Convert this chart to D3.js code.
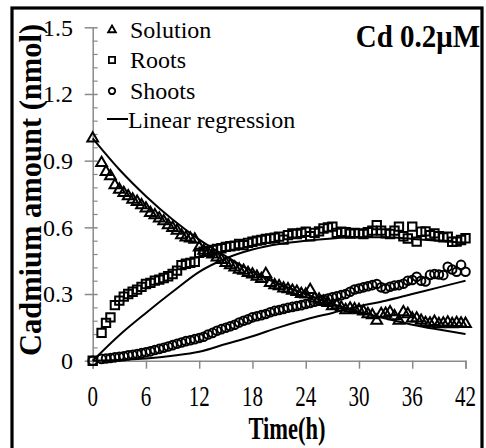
<!DOCTYPE html>
<html><head><meta charset="utf-8">
<script src="https://cdn.jsdelivr.net/npm/d3@7"></script>
<style>
html,body{margin:0;padding:0;background:#fff;}
svg{display:block;}
text{font-family:"Liberation Serif","Times New Roman",Times,serif;fill:#000;}
</style></head>
<body>
<svg id="c" width="486" height="448"></svg>
<script>
// ---- data ----
const times = [0,1,1.5,2,2.5,3,3.5,4,4.5,5,5.5,6,6.5,7,7.5,8,8.5,9,9.5,10,10.5,11,11.5,12,12.5,13,13.5,14,14.5,15,15.5,16,16.5,17,17.5,18,18.5,19,19.5,20,20.5,21,21.5,22,22.5,23,23.5,24,24.5,25,25.5,26,26.5,27,27.5,28,28.5,29,29.5,30,30.5,31,31.5,32,32.5,33,33.5,34,34.5,35,35.5,36,36.5,37,37.5,38,38.5,39,39.5,40,40.5,41,41.5,42];
const solution = [1.00,0.89,0.85,0.83,0.79,0.77,0.755,0.74,0.725,0.715,0.70,0.685,0.665,0.655,0.64,0.628,0.61,0.598,0.585,0.565,0.555,0.55,0.545,0.51,0.495,0.485,0.478,0.465,0.453,0.44,0.43,0.42,0.41,0.405,0.395,0.388,0.378,0.368,0.39,0.35,0.34,0.335,0.325,0.322,0.315,0.31,0.30,0.298,0.318,0.28,0.275,0.265,0.26,0.245,0.25,0.24,0.228,0.235,0.232,0.228,0.222,0.21,0.205,0.18,0.21,0.212,0.218,0.20,0.18,0.218,0.21,0.19,0.19,0.18,0.17,0.168,0.175,0.165,0.168,0.172,0.165,0.17,0.168,0.166];
const roots = [0,0.125,0.17,0.195,0.25,0.27,0.288,0.30,0.31,0.32,0.332,0.345,0.35,0.36,0.365,0.372,0.38,0.39,0.405,0.43,0.436,0.44,0.445,0.485,0.49,0.493,0.498,0.503,0.506,0.512,0.515,0.518,0.525,0.52,0.53,0.535,0.54,0.543,0.548,0.55,0.553,0.558,0.545,0.565,0.573,0.57,0.575,0.58,0.56,0.575,0.582,0.595,0.60,0.603,0.575,0.58,0.578,0.572,0.575,0.573,0.57,0.578,0.585,0.61,0.585,0.573,0.57,0.585,0.603,0.56,0.55,0.603,0.536,0.58,0.582,0.565,0.573,0.56,0.555,0.558,0.535,0.536,0.543,0.551];
const shoots = [0,0.008,0.01,0.012,0.015,0.018,0.02,0.024,0.027,0.03,0.034,0.038,0.042,0.048,0.053,0.058,0.064,0.07,0.076,0.082,0.088,0.092,0.097,0.102,0.108,0.118,0.125,0.135,0.142,0.148,0.155,0.162,0.172,0.18,0.186,0.195,0.20,0.205,0.21,0.218,0.224,0.228,0.233,0.238,0.242,0.246,0.25,0.255,0.26,0.265,0.27,0.275,0.28,0.285,0.29,0.295,0.30,0.31,0.32,0.325,0.33,0.335,0.34,0.345,0.33,0.325,0.333,0.338,0.34,0.346,0.36,0.363,0.378,0.36,0.356,0.386,0.39,0.388,0.385,0.423,0.41,0.40,0.431,0.40];
const fitTimes = [0,3,6,9,12,15,18,21,24,27,30,33,36,39,42];
const fitSolution = [1.0,0.86,0.74,0.635,0.545,0.47,0.40,0.345,0.30,0.255,0.22,0.19,0.162,0.14,0.12];
const fitRoots = [0,0.115,0.215,0.31,0.40,0.46,0.50,0.525,0.54,0.55,0.555,0.555,0.548,0.54,0.53];
const fitShoots = [0,0.003,0.01,0.022,0.04,0.075,0.11,0.15,0.185,0.215,0.245,0.27,0.30,0.33,0.36];
const xTicks = [0,6,12,18,24,30,36,42];
const yTicks = [0,0.3,0.6,0.9,1.2,1.5];
const yMinor = [0.06,0.12,0.18,0.24,0.36,0.42,0.48,0.54,0.66,0.72,0.78,0.84,0.96,1.02,1.08,1.14,1.26,1.32,1.38,1.44];
const legendLabels = ["Solution","Roots","Shoots","Linear regression"];
const xTitle = "Time(h)";
const yTitle = "Cadmium amount (nmol)";
const panelLabel = "Cd 0.2\u03bcM";

// ---- drawing ----
const svg = d3.select("#c");
const x = d3.scaleLinear().domain([0,42]).range([92.7,465.5]);
const y = d3.scaleLinear().domain([0,1.5]).range([360.7,27.3]);
const axisCol = "#8a8a8a";

// frame
svg.append("rect").attr("x",12).attr("y",8).attr("width",470).attr("height",460)
  .attr("fill","none").attr("stroke","#000").attr("stroke-width",3.2);

// x axis
const gx = svg.append("g").attr("transform",`translate(0,${y(0)})`)
  .call(d3.axisBottom(x).tickValues(xTicks).tickSize(8).tickFormat(""));
gx.select(".domain").attr("stroke",axisCol).attr("stroke-width",1.5);
gx.selectAll(".tick line").attr("stroke",axisCol).attr("stroke-width",1.5);
svg.append("g").selectAll("text").data(xTicks).join("text")
  .attr("transform",d=>`translate(${x(d)},406) scale(1,1.42)`)
  .attr("text-anchor","middle").attr("font-size",21).text(d=>d);

// y axis
const gy = svg.append("g").attr("transform",`translate(${x(0)},0)`)
  .call(d3.axisLeft(y).tickValues(yTicks).tickSizeInner(8).tickSizeOuter(0).tickFormat(""));
gy.select(".domain").attr("stroke",axisCol).attr("stroke-width",1.5);
gy.selectAll(".tick line").attr("stroke",axisCol).attr("stroke-width",1.5).attr("x2",5).attr("x1",-8);
const gyMinor = svg.append("g").attr("transform",`translate(${x(0)},0)`)
  .call(d3.axisRight(y).tickValues(yMinor).tickSize(5).tickFormat(""));
gyMinor.select(".domain").remove();
gyMinor.selectAll(".tick line").attr("stroke",axisCol).attr("stroke-width",1.2);
svg.append("g").selectAll("text").data(yTicks).join("text")
  .attr("x",73).attr("y",d=>y(d)).attr("dy","0.35em")
  .attr("text-anchor","end").attr("font-size",24).text(d=>d===0?"0":d.toFixed(1));

// titles
svg.append("text").attr("transform","translate(287,439) scale(1,1.4)")
  .attr("text-anchor","middle").attr("font-size",22.5).attr("font-weight","bold").text(xTitle);
svg.append("text").attr("transform","translate(41,190) rotate(-90)")
  .attr("text-anchor","middle").attr("font-size",30.5).attr("font-weight","bold").text(yTitle);
svg.append("text").attr("transform","translate(480,47) scale(1,1.12)")
  .attr("text-anchor","end").attr("font-size",29).attr("font-weight","bold").text(panelLabel);

// fits
const line = d3.line().x(d=>x(d[0])).y(d=>y(d[1])).curve(d3.curveMonotoneX);
[fitSolution,fitRoots,fitShoots].forEach(arr=>{
  svg.append("path").datum(fitTimes.map((t,i)=>[t,arr[i]]))
    .attr("d",line).attr("fill","none").attr("stroke","#000").attr("stroke-width",2);
});

// markers
const tri = d3.symbol().type(d3.symbolTriangle).size(50);
const sq = d3.symbol().type(d3.symbolSquare).size(70);
const circ = d3.symbol().type(d3.symbolCircle).size(58);
function pts(arr, sym){
  svg.append("g").selectAll("path").data(times.map((t,i)=>[t,arr[i]])).join("path")
    .attr("transform",d=>`translate(${x(d[0])},${y(d[1])})`)
    .attr("d",sym).attr("fill","none").attr("stroke","#000").attr("stroke-width",2);
}
pts(shoots,circ);
pts(roots,sq);
pts(solution,tri);

// legend
const lg = svg.append("g");
const lyBase = [38,68,99,128];
const mSyms = [d3.symbol().type(d3.symbolTriangle).size(26), d3.symbol().type(d3.symbolSquare).size(38), d3.symbol().type(d3.symbolCircle).size(32)];
mSyms.forEach((s,i)=>{
  lg.append("path").attr("transform",`translate(112,${lyBase[i]-8})`).attr("d",s)
    .attr("fill","none").attr("stroke","#000").attr("stroke-width",1.8);
});
lg.append("line").attr("x1",107).attr("x2",128).attr("y1",lyBase[3]-9).attr("y2",lyBase[3]-9)
  .attr("stroke","#000").attr("stroke-width",2);
lg.selectAll("text").data(legendLabels).join("text")
  .attr("x",(d,i)=>i===3?128:130).attr("y",(d,i)=>lyBase[i]).attr("font-size",24).text(d=>d);
</script>
</body></html>
